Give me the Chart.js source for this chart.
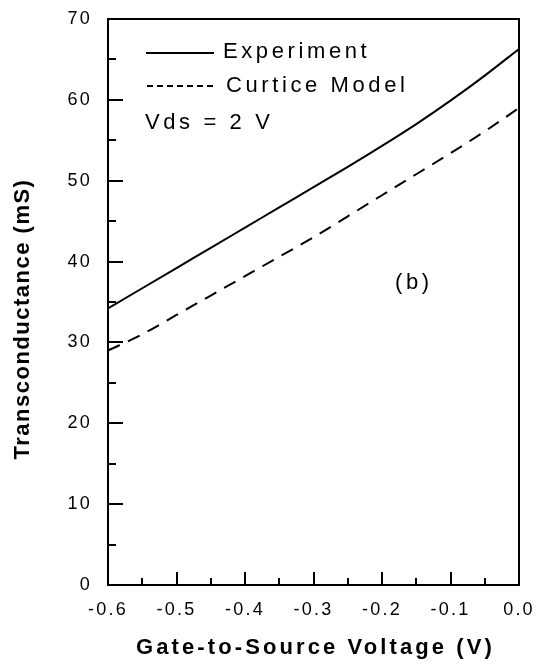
<!DOCTYPE html>
<html>
<head>
<meta charset="utf-8">
<script src="https://cdn.jsdelivr.net/npm/chart.js@4.4.1/dist/chart.umd.min.js"></script>
<style>
  html, body { margin: 0; padding: 0; background: #ffffff; }
  #wrap { width: 536px; height: 666px; }
</style>
</head>
<body>
<div id="wrap"><canvas id="gm"></canvas></div>
<script>
// Gate-to-source voltage sweep (V)
const vgs = [-0.6, -0.55, -0.5, -0.45, -0.4, -0.35, -0.3, -0.25, -0.2, -0.15, -0.1, -0.05, 0.0];
// Measured transconductance (mS)
const gmExperiment = [34.2, 36.7, 39.2, 41.7, 44.2, 46.7, 49.2, 51.7, 54.3, 57.0, 59.9, 63.0, 66.3];
// Curtice model transconductance (mS)
const gmCurtice = [29.0, 31.0, 33.4, 35.8, 38.2, 40.6, 43.0, 45.6, 48.2, 50.8, 53.4, 56.1, 59.0];

const seriesNames = ['Experiment', 'Curtice Model'];
const xTitle = 'Gate-to-Source Voltage (V)';
const yTitle = 'Transconductance (mS)';
const biasNote = 'Vds = 2 V';
const panelTag = '(b)';

const FONT = "'Liberation Sans', Arial, sans-serif";

function pts(xs, ys) { return xs.map((x, i) => ({ x: x, y: ys[i] })); }

// Frame, inward tick marks, legend and annotations
const framePlugin = {
  id: 'frame',
  beforeDraw(chart) {
    chart.ctx.letterSpacing = '2.2px';
  },
  afterDraw(chart) {
    const ctx = chart.ctx;
    const { left, right, top, bottom } = chart.chartArea;
    const xs = chart.scales.x, ys = chart.scales.y;
    ctx.save();
    ctx.strokeStyle = '#000';
    ctx.lineWidth = 2;
    ctx.lineCap = 'butt';
    // top and right border
    ctx.beginPath();
    ctx.moveTo(left, top); ctx.lineTo(right, top); ctx.lineTo(right, bottom);
    ctx.stroke();
    // x ticks (major every 0.1, minor at 0.05)
    ctx.beginPath();
    for (let k = 0; k <= 12; k++) {
      const v = -0.6 + k * 0.05;
      const px = Math.round(xs.getPixelForValue(v));
      const len = (k % 2 === 0) ? 13 : 7;
      ctx.moveTo(px, bottom); ctx.lineTo(px, bottom - len);
    }
    // y ticks (major every 10, minor at 5)
    for (let k = 0; k <= 14; k++) {
      const v = k * 5;
      const py = Math.round(ys.getPixelForValue(v));
      const len = (k % 2 === 0) ? 15 : 8;
      ctx.moveTo(left, py); ctx.lineTo(left + len, py);
    }
    ctx.stroke();

    // legend
    ctx.lineWidth = 2;
    ctx.beginPath();
    ctx.moveTo(146, 53); ctx.lineTo(214, 53);
    ctx.stroke();
    ctx.setLineDash([6, 4]);
    ctx.beginPath();
    ctx.moveTo(147, 86); ctx.lineTo(215, 86);
    ctx.stroke();
    ctx.setLineDash([]);

    ctx.fillStyle = '#000';
    ctx.textBaseline = 'middle';
    ctx.textAlign = 'left';
    ctx.font = '22px ' + FONT;
    ctx.letterSpacing = '3.6px';
    ctx.fillText(seriesNames[0], 223, 52);
    ctx.fillText(seriesNames[1], 226, 86);
    ctx.fillText(biasNote, 145, 123);
    ctx.fillText(panelTag, 395, 283);

    // axis titles
    ctx.font = 'bold 22px ' + FONT;
    ctx.letterSpacing = '3.1px';
    ctx.textAlign = 'center';
    ctx.fillText(xTitle, (left + right) / 2 + 2, 648);
    ctx.letterSpacing = '1.5px';
    ctx.translate(23, (top + bottom) / 2 + 17);
    ctx.rotate(-Math.PI / 2);
    ctx.fillText(yTitle, 0, 0);
    ctx.restore();
    chart.ctx.letterSpacing = '0px';
  }
};

new Chart(document.getElementById('gm'), {
  type: 'line',
  data: {
    datasets: [
      {
        label: seriesNames[0],
        data: pts(vgs, gmExperiment),
        borderColor: '#000',
        borderWidth: 2,
        pointRadius: 0,
        tension: 0.4,
        cubicInterpolationMode: 'monotone',
        fill: false
      },
      {
        label: seriesNames[1],
        data: pts(vgs, gmCurtice),
        borderColor: '#000',
        borderWidth: 2,
        borderDash: [13, 9],
        pointRadius: 0,
        tension: 0.4,
        cubicInterpolationMode: 'monotone',
        fill: false
      }
    ]
  },
  options: {
    responsive: true,
    maintainAspectRatio: false,
    animation: false,
    devicePixelRatio: 1,
    layout: { padding: { top: 19, right: 17, left: 0, bottom: 0 } },
    plugins: {
      legend: { display: false },
      tooltip: { enabled: false }
    },
    scales: {
      x: {
        type: 'linear',
        min: -0.6,
        max: 0,
        grid: { display: false, drawTicks: false },
        border: { display: true, color: '#000', width: 2 },
        ticks: {
          stepSize: 0.1,
          padding: 14,
          color: '#000',
          font: { family: FONT, size: 18 },
          maxRotation: 0,
          callback: v => (Math.abs(v) < 1e-9 ? 0 : v).toFixed(1)
        },
        afterFit(s) {
          s.height = 81;
          s.paddingLeft = 0; s.paddingRight = 0; s.paddingTop = 0; s.paddingBottom = 0;
        }
      },
      y: {
        min: 0,
        max: 70,
        grid: { display: false, drawTicks: false },
        border: { display: true, color: '#000', width: 2 },
        ticks: {
          stepSize: 10,
          padding: 16,
          color: '#000',
          font: { family: FONT, size: 18 }
        },
        afterFit(s) {
          s.width = 108;
          s.paddingLeft = 0; s.paddingRight = 0; s.paddingTop = 0; s.paddingBottom = 0;
        }
      }
    }
  },
  plugins: [framePlugin]
});
</script>
</body>
</html>
